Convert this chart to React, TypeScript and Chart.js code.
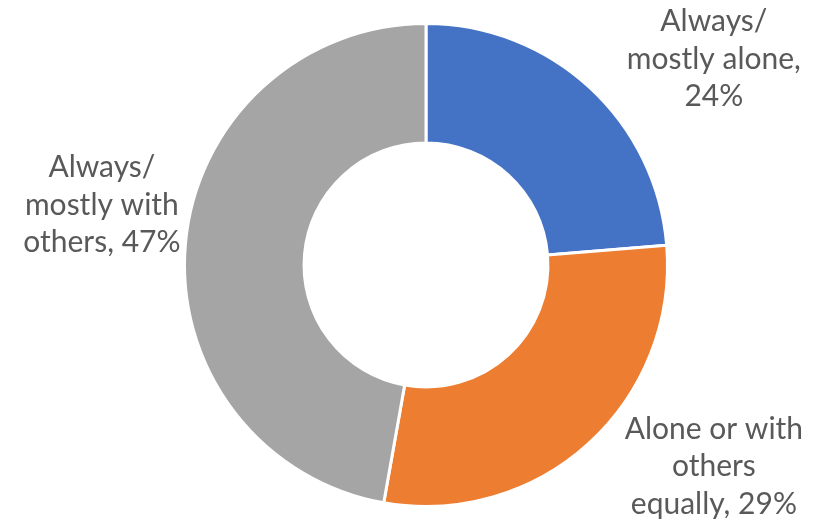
import React, { useEffect, useRef } from "react";
import { Chart, registerables } from "chart.js";

Chart.register(...registerables);

const categories = ["Always/ mostly alone", "Alone or with others equally", "Always/ mostly with others"];
const values = [23.7, 29.1, 47.2];
const labelLines = [
  ["Always/", "mostly alone,", "24%"],
  ["Alone or with", "others", "equally, 29%"],
  ["Always/", "mostly with", "others, 47%"],
];
const colors = ["#4472C4", "#ED7D31", "#A5A5A5"];
// label anchor offsets relative to chart centre, in units of outer radius (middle line baseline)
const labelOffsets = [
  [1.192, -0.8125],
  [1.192, 0.875],
  [-1.342, -0.208],
];

const FONT = "30px Lato";
const LINE_H = 37.5;

const labelPlugin = {
  id: "outsideLabels",
  afterDatasetsDraw(chart: any) {
    const meta = chart.getDatasetMeta(0);
    const ctx = chart.ctx;
    ctx.save();
    ctx.font = FONT;
    ctx.fillStyle = "#595959";
    ctx.textAlign = "center";
    ctx.textBaseline = "alphabetic";
    meta.data.forEach((arc: any, i: number) => {
      const { x, y, outerRadius } = arc.getProps(["x", "y", "outerRadius"], true);
      const cx = x + labelOffsets[i][0] * outerRadius;
      const cy = y + labelOffsets[i][1] * outerRadius;
      const lines = labelLines[i];
      lines.forEach((t, j) => {
        ctx.fillText(t, cx, cy + (j - 1) * LINE_H);
      });
    });
    ctx.restore();
  },
};

export default function App() {
  const ref = useRef<HTMLCanvasElement>(null);
  useEffect(() => {
    document.body.style.margin = "0";
    const chart = new Chart(ref.current!, {
      type: "doughnut",
      data: {
        labels: categories,
        datasets: [
          {
            data: values,
            backgroundColor: colors,
            borderColor: "#ffffff",
            borderWidth: 3,
          },
        ],
      },
      options: {
        animation: false,
        responsive: false,
        cutout: "50.5%",
        layout: { padding: { top: 22, bottom: 14, left: 26, right: 0 } },
        plugins: {
          legend: { display: false },
          tooltip: { enabled: false },
        },
      },
      plugins: [labelPlugin],
    });
    return () => chart.destroy();
  }, []);
  return (
    <div style={{ position: "fixed", left: 0, top: 0, width: 826, height: 522, background: "#fff" }}>
      <canvas ref={ref} width={826} height={522} />
    </div>
  );
}
